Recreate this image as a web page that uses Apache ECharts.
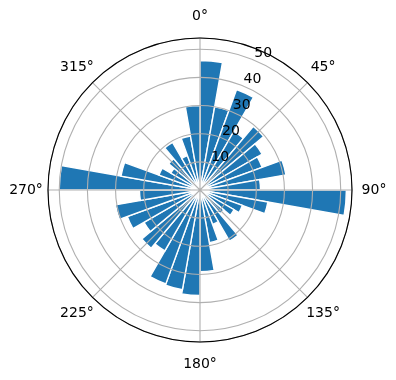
<!DOCTYPE html>
<html>
<head>
<meta charset="utf-8">
<script src="https://cdn.jsdelivr.net/npm/echarts@6/dist/echarts.min.js"></script>
<style>html,body{margin:0;padding:0;background:#fff}#c{width:396px;height:380px}</style>
</head>
<body>
<div id="c"></div>
<script>
// Bar sectors: each bar spans [angle, angle + 10] degrees, clockwise from north
const sectorStarts = [0,10,20,30,40,50,60,70,80,90,100,110,120,130,140,150,160,170,
                      180,190,200,210,220,230,240,250,260,270,280,290,300,310,320,330,340,350];
const barValues = [46,30,38,24,29.5,25.5,23.5,31,21.5,52,24.5,16,14,11,21,13,19,29,
                   37.5,36,35.5,25,27,23,27.5,30.5,21.5,50,28.5,15.5,12,14.5,19.5,13,19.5,30];
const angleTicks = [0,45,90,135,180,225,270,315];
const radiusTicks = [10,20,30,40,50];
const radiusMax = 54;

const C = [200, 190];
const R = 152;
const font = 'DejaVu Sans';
const txt = {color: '#000', fontSize: 14, fontFamily: font};

function angleLabel(v) {
  if (angleTicks.indexOf(v) < 0) return '';
  const s = v % 180 === 0 ? 'v' : (v % 180 === 90 ? 'h' : 'd');
  return '{' + s + '|' + v + '°}';
}

const chart = echarts.init(document.getElementById('c'), null, {renderer: 'canvas'});
chart.setOption({
  backgroundColor: '#ffffff',
  animation: false,
  polar: [
    {center: C, radius: R},
    {center: C, radius: R},
    {center: [C[0] + 9.4, C[1] - 7], radius: R}
  ],
  angleAxis: [
    {polarIndex: 0, type: 'category', data: sectorStarts.map(String), startAngle: 90, clockwise: true,
     boundaryGap: true, axisLine: {show: false}, axisTick: {show: false}, axisLabel: {show: false},
     splitLine: {show: false}},
    {polarIndex: 1, type: 'value', min: 0, max: 360, interval: 45, startAngle: 90, clockwise: true, z: 10,
     axisLine: {show: true, lineStyle: {color: '#000', width: 1.1}},
     axisTick: {show: false},
     axisLabel: {show: true, margin: -2, color: '#000', fontSize: 14, fontFamily: font,
       formatter: angleLabel,
       rich: {
         v: Object.assign({lineHeight: 48, height: 48, align: 'center', verticalAlign: 'middle'}, txt),
         h: Object.assign({width: 48, lineHeight: 16, align: 'center'}, txt),
         d: Object.assign({width: 34, lineHeight: 34, height: 34, align: 'center', verticalAlign: 'middle'}, txt)
       }},
     splitLine: {show: true, lineStyle: {color: '#b0b0b0', width: 1.1}}},
    {polarIndex: 2, type: 'value', min: 0, max: 360, startAngle: 67.5, clockwise: true, show: false}
  ],
  radiusAxis: [
    {polarIndex: 0, type: 'value', min: 0, max: radiusMax, show: false},
    {polarIndex: 1, type: 'value', min: 0, max: radiusMax, interval: 10, z: 10,
     axisLine: {show: false}, axisTick: {show: false}, axisLabel: {show: false},
     splitLine: {show: true, lineStyle: {color: '#b0b0b0', width: 1.1}}},
    {polarIndex: 2, type: 'value', min: 0, max: radiusMax, interval: 10, z: 11,
     axisLine: {show: false}, axisTick: {show: false}, splitLine: {show: false},
     axisLabel: {show: true, margin: 0, rotate: 0, align: 'center', verticalAlign: 'middle',
       color: '#000', fontSize: 14, fontFamily: font,
       formatter: v => radiusTicks.indexOf(v) >= 0 ? String(v) : ''}}
  ],
  series: [{
    type: 'bar',
    coordinateSystem: 'polar',
    polarIndex: 0,
    data: barValues,
    barCategoryGap: '0%',
    itemStyle: {color: '#1f77b4', borderColor: '#ffffff', borderWidth: 1.4},
    z: 2
  }]
});
</script>
</body>
</html>
